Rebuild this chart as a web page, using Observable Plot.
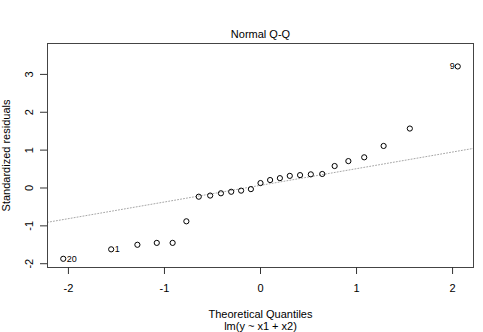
<!DOCTYPE html>
<html>
<head>
<meta charset="utf-8">
<script src="https://cdn.jsdelivr.net/npm/d3@7"></script>
<script src="https://cdn.jsdelivr.net/npm/@observablehq/plot@0.6"></script>
<style>
html, body { margin: 0; padding: 0; background: #fff; }
</style>
</head>
<body>
<div id="chart"></div>
<script>
// Data
const theoretical = [-2.054, -1.555, -1.282, -1.080, -0.915, -0.772, -0.643, -0.524, -0.412, -0.305, -0.202, -0.100, 0, 0.100, 0.202, 0.305, 0.412, 0.524, 0.643, 0.772, 0.915, 1.080, 1.282, 1.555, 2.054];
const residuals = [-1.87, -1.62, -1.50, -1.45, -1.45, -0.88, -0.23, -0.20, -0.14, -0.10, -0.07, -0.03, 0.13, 0.21, 0.26, 0.32, 0.34, 0.36, 0.37, 0.58, 0.71, 0.81, 1.11, 1.57, 3.21];
const idLabels = ["20", "1", "9"];
const idIndex = [0, 1, 24];
const idSide = ["right", "right", "left"];
const xTicks = [-2, -1, 0, 1, 2];
const yTicks = [-2, -1, 0, 1, 2, 3];
const qqSlope = 0.44;
const qqIntercept = 0.07;
const title = "Normal Q-Q";
const xTitle = "Theoretical Quantiles";
const subTitle = "lm(y ~ x1 + x2)";
const yTitle = "Standardized residuals";

const xDomain = [-2.218, 2.218];
const yDomain = [-2.10, 3.816];

const points = theoretical.map((t, i) => ({t, r: residuals[i]}));
const ids = idLabels.map((lab, k) => ({label: lab, t: theoretical[idIndex[k]], r: residuals[idIndex[k]], side: idSide[k]}));
const qqLine = xDomain.map(x => ({t: x, r: qqIntercept + qqSlope * x}));

const chart = Plot.plot({
  width: 483,
  height: 332,
  marginLeft: 47,
  marginRight: 10,
  marginTop: 43,
  marginBottom: 65,
  style: {fontFamily: "'Liberation Sans', Arial, sans-serif", fontSize: "11px", background: "#fff", color: "#000", overflow: "visible"},
  x: {domain: xDomain, axis: null},
  y: {domain: yDomain, axis: null},
  marks: [
    Plot.line(qqLine, {x: "t", y: "r", stroke: "#a6a6a6", strokeWidth: 1, strokeDasharray: "1,2"}),
    Plot.frame({stroke: "#444", strokeWidth: 1}),
    Plot.axisX({ticks: xTicks, tickSize: 7, tickFormat: () => "", label: null, stroke: "#333"}),
    Plot.axisY({ticks: yTicks, tickSize: 7, tickFormat: () => "", label: null, stroke: "#333"}),
    Plot.text(xTicks, {x: d => d, text: d => String(d), frameAnchor: "bottom", dy: 20.5, lineAnchor: "middle", fontSize: 11, fill: "#000"}),
    Plot.text(yTicks, {y: d => d, text: d => String(d), frameAnchor: "left", dx: -18, rotate: -90, lineAnchor: "middle", textAnchor: "middle", fontSize: 11, fill: "#000"}),
    Plot.dot(points, {x: "t", y: "r", r: 2.6, stroke: "#000", strokeWidth: 1, fill: "none"}),
    Plot.text(ids.filter(d => d.side === "right"), {x: "t", y: "r", text: "label", textAnchor: "start", dx: 3.5, fontSize: 9, fill: "#000", lineAnchor: "middle"}),
    Plot.text(ids.filter(d => d.side === "left"), {x: "t", y: "r", text: "label", textAnchor: "end", dx: -3, fontSize: 9, fill: "#000", lineAnchor: "middle"}),
    Plot.text([title], {text: d => d, frameAnchor: "top", dy: -9.5, lineAnchor: "middle", fontSize: 11, fill: "#000"}),
    Plot.text([xTitle], {text: d => d, frameAnchor: "bottom", dy: 47, lineAnchor: "middle", fontSize: 11, fill: "#000"}),
    Plot.text([subTitle], {text: d => d, frameAnchor: "bottom", dy: 58.5, lineAnchor: "middle", fontSize: 11, fill: "#000"}),
    Plot.text([yTitle], {text: d => d, frameAnchor: "left", dx: -41, rotate: -90, lineAnchor: "middle", textAnchor: "middle", fontSize: 11, fill: "#000"})
  ]
});
document.getElementById("chart").appendChild(chart);
</script>
</body>
</html>
